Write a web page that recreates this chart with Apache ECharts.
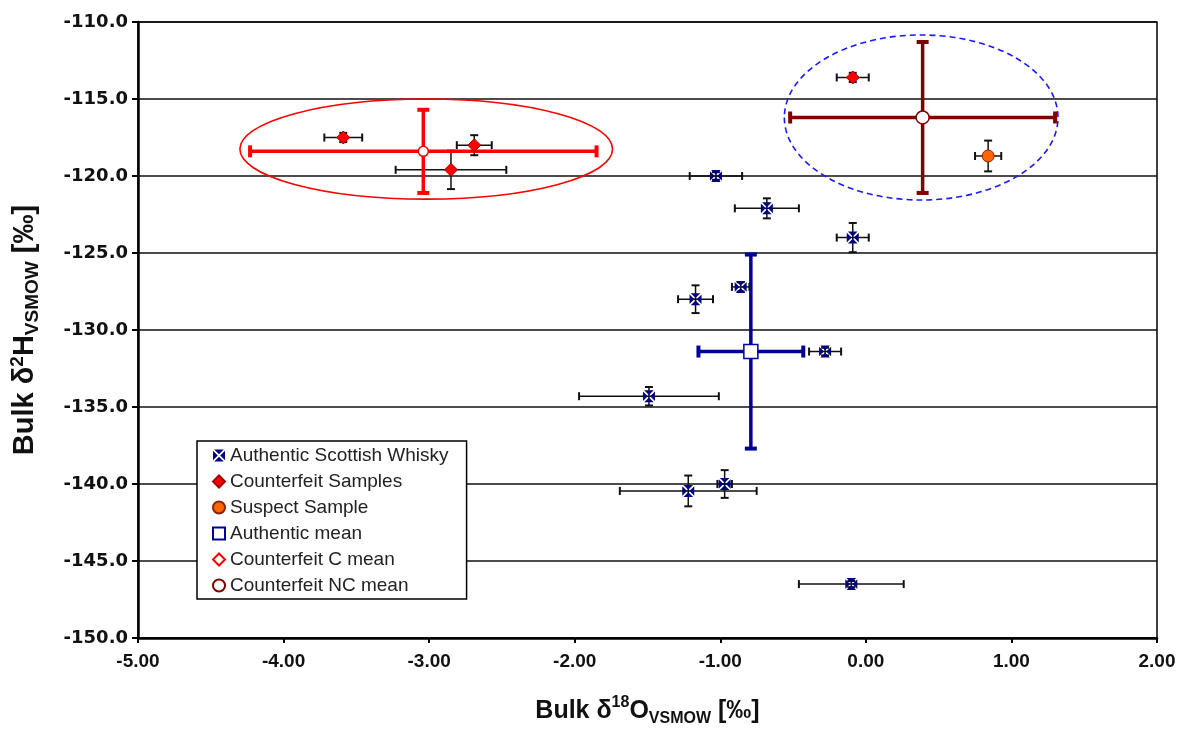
<!DOCTYPE html>
<html><head><meta charset="utf-8">
<script src="https://cdn.jsdelivr.net/npm/echarts@6/dist/echarts.min.js"></script>
<style>html,body{margin:0;padding:0;background:#fff}#c{width:1182px;height:731px}</style>
</head><body><div id="c"></div>
<script>
// ---- data ----
const xTicks = [-5, -4, -3, -2, -1, 0, 1, 2];
const yTicks = [-150, -145, -140, -135, -130, -125, -120, -115, -110];

const authX    = [-1.03, -0.68, -0.09, -0.86, -1.17, -0.28, -1.49, -1.22, -0.97, -0.10];
const authY    = [-120.0, -122.1, -124.0, -127.2, -128.0, -131.4, -134.3, -140.45, -140.0, -146.5];
const authXErr = [0.18, 0.22, 0.11, 0.06, 0.12, 0.11, 0.48, 0.47, 0.05, 0.36];
const authYErr = [0.25, 0.65, 0.95, 0.3, 0.9, 0.25, 0.6, 1.0, 0.9, 0.2];

const counterX    = [-3.59, -2.69, -2.85, -0.09];
const counterY    = [-117.5, -118.0, -119.6, -113.6];
const counterXErr = [0.13, 0.12, 0.38, 0.11];
const counterYErr = [0.3, 0.65, 1.25, 0.3];

const suspectX = [0.84], suspectY = [-118.7], suspectXErr = [0.09], suspectYErr = [1.0];

const authMeanX = [-0.79], authMeanY = [-131.4], authMeanXErr = [0.36], authMeanYErr = [6.3];
const cMeanX = [-3.04], cMeanY = [-118.4], cMeanXErr = [1.19], cMeanYErr = [2.7];
const ncMeanX = [0.39], ncMeanY = [-116.2], ncMeanXErr = [0.91], ncMeanYErr = [4.9];

const ellipseCX = [-3.02, 0.38];
const ellipseCY = [-118.25, -116.2];
const ellipseRX = [1.28, 0.94];
const ellipseRY = [3.25, 5.36];

const names = ['Authentic Scottish Whisky', 'Counterfeit Samples', 'Suspect Sample',
  'Authentic mean', 'Counterfeit C mean', 'Counterfeit NC mean'];

// ---- helpers ----
const zip = (a, b) => a.map((v, i) => [v, b[i]]);
const zip4 = (a, b, c, d) => a.map((v, i) => [v, b[i], c[i], d[i]]);

function errRender(color, width, cap, capWidth) {
  return function (params, api) {
    const x = api.value(0), y = api.value(1), ex = api.value(2), ey = api.value(3);
    const l = api.coord([x - ex, y]), r = api.coord([x + ex, y]);
    const t = api.coord([x, y + ey]), b = api.coord([x, y - ey]);
    const st = { stroke: color, lineWidth: width };
    const cs = { stroke: color, lineWidth: capWidth };
    const ch = [];
    if (ex > 0) {
      ch.push({ type: 'line', shape: { x1: l[0], y1: l[1], x2: r[0], y2: r[1] }, style: st });
      ch.push({ type: 'line', shape: { x1: l[0], y1: l[1] - cap, x2: l[0], y2: l[1] + cap }, style: cs });
      ch.push({ type: 'line', shape: { x1: r[0], y1: r[1] - cap, x2: r[0], y2: r[1] + cap }, style: cs });
    }
    if (ey > 0) {
      ch.push({ type: 'line', shape: { x1: t[0], y1: t[1], x2: b[0], y2: b[1] }, style: st });
      ch.push({ type: 'line', shape: { x1: t[0] - cap, y1: t[1], x2: t[0] + cap, y2: t[1] }, style: cs });
      ch.push({ type: 'line', shape: { x1: b[0] - cap, y1: b[1], x2: b[0] + cap, y2: b[1] }, style: cs });
    }
    return { type: 'group', children: ch };
  };
}

function ellipseRender(color, dash) {
  return function (params, api) {
    const c = api.coord([api.value(0), api.value(1)]);
    const rx = api.size([api.value(2), 0])[0];
    const ry = api.size([0, api.value(3)])[1];
    const d = 'M' + (c[0] - rx) + ' ' + c[1] +
      ' A' + rx + ' ' + ry + ' 0 1 0 ' + (c[0] + rx) + ' ' + c[1] +
      ' A' + rx + ' ' + ry + ' 0 1 0 ' + (c[0] - rx) + ' ' + c[1] + ' Z';
    return {
      type: 'path',
      shape: { pathData: d },
      style: { fill: 'none', stroke: color, lineWidth: 1.6, lineDash: dash }
    };
  };
}

const authIcon = 'path://M1 0 L9 0 L5 4 Z M10 1 L10 9 L6 5 Z M9 10 L1 10 L5 6 Z M0 9 L0 1 L4 5 Z';
const lblFont = '"Liberation Sans", Arial, sans-serif';

const chart = echarts.init(document.getElementById('c'), null, { renderer: 'canvas' });
chart.setOption({
  backgroundColor: '#ffffff',
  animation: false,
  grid: { left: 138, right: 25, top: 22, bottom: 93, outerBoundsMode: 'none', containLabel: false, show: true, borderColor: '#000', borderWidth: 1.5, backgroundColor: 'transparent' },
  legend: {
    orient: 'vertical', left: 197, top: 441,
    padding: [5, 18, 4, 15],
    itemWidth: 12, itemHeight: 12, itemGap: 7,
    backgroundColor: '#fff', borderColor: '#000', borderWidth: 1.5,
    textStyle: { fontFamily: lblFont, fontSize: 19, lineHeight: 19, color: '#222' },
    data: [
      { name: names[0], icon: authIcon },
      { name: names[1], icon: 'diamond' },
      { name: names[2], icon: 'circle' },
      { name: names[3], icon: 'rect' },
      { name: names[4], icon: 'diamond' },
      { name: names[5], icon: 'circle' }
    ]
  },
  xAxis: {
    type: 'value', min: xTicks[0], max: xTicks[xTicks.length - 1], interval: 1,
    axisLine: { show: true, onZero: false, lineStyle: { color: '#000', width: 2.5 } },
    axisTick: { show: true, inside: false, length: 5, lineStyle: { color: '#000', width: 2 } },
    splitLine: { show: false },
    axisLabel: { formatter: v => v.toFixed(2), fontFamily: lblFont, fontWeight: 'bold', fontSize: 19, color: '#111', margin: 14 },
    name: '{b|Bulk δ}{sup|18}{b|O}{sub|VSMOW}{b| [‰]}',
    nameLocation: 'middle', nameGap: 57,
    nameTextStyle: {
      rich: {
        b: { fontFamily: lblFont, fontWeight: 'bold', fontSize: 25, lineHeight: 32, color: '#111' },
        sup: { fontFamily: lblFont, fontWeight: 'bold', fontSize: 16, lineHeight: 16, verticalAlign: 'top', color: '#111' },
        sub: { fontFamily: lblFont, fontWeight: 'bold', fontSize: 16, lineHeight: 16, verticalAlign: 'bottom', color: '#111' }
      }
    }
  },
  yAxis: {
    type: 'value', min: yTicks[0], max: yTicks[yTicks.length - 1], interval: 5,
    axisLine: { show: true, onZero: false, lineStyle: { color: '#000', width: 2.5 } },
    axisTick: { show: true, inside: false, length: 6, lineStyle: { color: '#000', width: 2 } },
    splitLine: { show: true, lineStyle: { color: '#111', width: 1.6 } },
    axisLabel: { formatter: v => v.toFixed(1), fontFamily: '"DejaVu Sans", sans-serif', fontWeight: 'bold', fontSize: 18, color: '#111', margin: 10 },
    name: '{b|Bulk δ}{sup|2}{b|H}{sub|VSMOW}{b| [‰]}',
    nameLocation: 'middle', nameGap: 96, nameRotate: 90,
    nameTextStyle: {
      rich: {
        b: { fontFamily: lblFont, fontWeight: 'bold', fontSize: 29, lineHeight: 34, color: '#111' },
        sup: { fontFamily: lblFont, fontWeight: 'bold', fontSize: 19, lineHeight: 19, verticalAlign: 'top', color: '#111' },
        sub: { fontFamily: lblFont, fontWeight: 'bold', fontSize: 19, lineHeight: 19, verticalAlign: 'bottom', color: '#111' }
      }
    }
  },
  series: [
    { type: 'custom', name: 'ellC', z: 1, renderItem: ellipseRender('#FF0000', null), data: zip4([ellipseCX[0]], [ellipseCY[0]], [ellipseRX[0]], [ellipseRY[0]]), silent: true },
    { type: 'custom', name: 'ellNC', z: 1, renderItem: ellipseRender('#1a1aff', [6, 4]), data: zip4([ellipseCX[1]], [ellipseCY[1]], [ellipseRX[1]], [ellipseRY[1]]), silent: true },

    { type: 'custom', name: 'errAuth', z: 3, renderItem: errRender('#111', 1.5, 4, 2), data: zip4(authX, authY, authXErr, authYErr), silent: true },
    { type: 'custom', name: 'errCounter', z: 3, renderItem: errRender('#111', 1.5, 4, 2), data: zip4(counterX, counterY, counterXErr, counterYErr), silent: true },
    { type: 'custom', name: 'errSuspect', z: 3, renderItem: errRender('#111', 1.5, 4, 2), data: zip4(suspectX, suspectY, suspectXErr, suspectYErr), silent: true },
    { type: 'custom', name: 'errAuthMean', z: 4, renderItem: errRender('#000099', 3.5, 6, 4), data: zip4(authMeanX, authMeanY, authMeanXErr, authMeanYErr), silent: true },
    { type: 'custom', name: 'errCMean', z: 4, renderItem: errRender('#FF0000', 3.5, 6, 4), data: zip4(cMeanX, cMeanY, cMeanXErr, cMeanYErr), silent: true },
    { type: 'custom', name: 'errNCMean', z: 4, renderItem: errRender('#800000', 3.5, 6, 4), data: zip4(ncMeanX, ncMeanY, ncMeanXErr, ncMeanYErr), silent: true },

    { type: 'scatter', name: names[0], z: 5, symbol: authIcon, symbolSize: 12, itemStyle: { color: '#000080', opacity: 1 }, data: zip(authX, authY) },
    { type: 'scatter', name: names[1], z: 5, symbol: 'diamond', symbolSize: 13, itemStyle: { color: '#FF0000', borderColor: '#A00000', borderWidth: 1, opacity: 1 }, data: zip(counterX, counterY) },
    { type: 'scatter', name: names[2], z: 5, symbol: 'circle', symbolSize: 12, itemStyle: { color: '#FF6600', borderColor: '#8B2500', borderWidth: 1, opacity: 1 }, data: zip(suspectX, suspectY) },
    { type: 'scatter', name: names[3], z: 6, symbol: 'rect', symbolSize: 14, itemStyle: { color: '#fff', borderColor: '#000099', borderWidth: 1.5, opacity: 1 }, data: zip(authMeanX, authMeanY) },
    { type: 'scatter', name: names[4], z: 6, symbol: 'circle', symbolSize: 10, itemStyle: { color: '#fff', borderColor: '#FF0000', borderWidth: 1.5, opacity: 1 }, data: zip(cMeanX, cMeanY) },
    { type: 'scatter', name: names[5], z: 6, symbol: 'circle', symbolSize: 13, itemStyle: { color: '#fff', borderColor: '#800000', borderWidth: 1.5, opacity: 1 }, data: zip(ncMeanX, ncMeanY) }
  ]
});
</script>
</body></html>
